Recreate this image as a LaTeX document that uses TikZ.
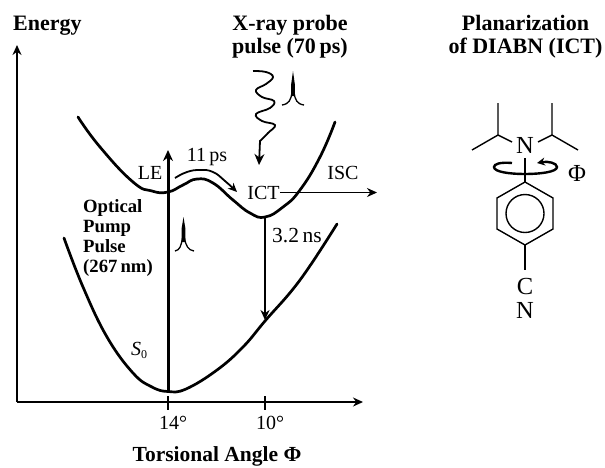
\documentclass[tikz,border=0pt]{standalone}
\usepackage{fontspec}
\setmainfont{Liberation Serif}
\usetikzlibrary{arrows.meta,calc}
\tikzset{
  lab/.style={inner sep=0pt,font=\fontsize{20}{22}\selectfont},
  chem/.style={inner sep=0pt,font=\fontsize{24.5}{26}\selectfont},
  blab/.style={inner sep=0pt,align=center,font=\fontsize{22}{23}\selectfont\bfseries},
  oplab/.style={inner sep=0pt,align=left,font=\fontsize{18.7}{19.7}\selectfont\bfseries},
  curve/.style={line width=2.7pt,line cap=round},
  thin arrow/.style={line width=1.5pt,-{Stealth[length=10pt,width=9pt]}},
  pump arrow/.style={line width=3pt,-{Stealth[length=11pt,width=10pt]}},
  pulsestem/.style={fill=black,draw=none},
  pulseleg/.style={line width=1.3pt},
  bond/.style={line width=1.4pt}
}
\begin{document}
\begin{tikzpicture}[x=1pt,y=-1pt]
\useasboundingbox (0,0) rectangle (605,467);
% labels
\node[blab,anchor=west] (energy) at (13,26) {Energy};
\node[blab] (xray) at (290,37) {X-ray probe\\pulse (70\,ps)};
\node[blab] (plan) at (525.5,37) {Planarization\\of DIABN (ICT)};
\node[blab,font=\fontsize{21.5}{23}\selectfont\bfseries] (torsion) at (217,456.5) {Torsional Angle Φ};
\node[lab] (le) at (150,173) {LE};
\node[lab] (ps) at (207,157) {11\,ps};
\node[lab] (ict) at (263.5,192.5) {ICT};
\node[lab] (isc) at (343,173) {ISC};
\node[lab,font=\fontsize{21.5}{22}\selectfont] (ns) at (297,236) {3.2\,ns};
\node[lab] (s0) at (139,350) {\textit{S}\raisebox{-3pt}{\fontsize{12}{12}\selectfont 0}};
\node[lab] (a14) at (173,423) {14°};
\node[lab] (a10) at (270,423) {10°};
\node[oplab,anchor=west] (opt) at (83,238) {Optical\\Pump\\Pulse\\(267\,nm)};
% axes
\coordinate (o) at (17,402);
\coordinate (ytop) at (17,45);
\coordinate (xend) at (363,402);
\draw[thin arrow] (o) -- (ytop);
\draw[thin arrow] (o) -- (xend);
\draw[line width=1.2pt] (168,396) -- (168,410);
\draw[line width=1.2pt] (265,396) -- (265,410);
% potential curves
\draw[curve] plot[smooth,tension=0.8] coordinates {(78,117) (100,147) (133,182) (152,191) (168,192) (183,185) (197,179) (213,183) (233,200) (250,213) (265,217) (283,207) (300,190) (320,157) (335,122)};
\draw[curve] plot[smooth,tension=0.7] coordinates {(64,238) (83,287) (107,337) (133,373) (152,387) (168,391.5) (186,389) (217,370) (243,347) (265,321) (300,280) (337,224)};
% transitions
\coordinate (s0min) at (168,391);
\coordinate (letop) at (168,150);
\draw[pump arrow] (s0min) -- (letop);
\coordinate (ictmin) at (265,217);
\coordinate (s0ict) at (265,320);
\draw[thin arrow] (ictmin) -- (s0ict);
\coordinate (iscend) at (377,192.5);
\draw[thin arrow] (ict.east) -- (iscend);
\coordinate (r1) at (175,178);
\coordinate (r2) at (237,192);
\draw[line width=1.8pt,-{Stealth[length=9pt,width=8pt]}] plot[smooth,tension=0.8] coordinates {(r1) (187,172) (200,170) (213,172) (225,181) (r2)};
% x-ray wave
\coordinate (w0) at (253,71);
\coordinate (w1) at (259,165);
\draw[line width=1.8pt,-{Stealth[length=11pt,width=10pt]}] plot[smooth,tension=0.7] coordinates {(w0) (266,72) (273,77) (266,84) (256,90) (262,97) (274,101) (270,108) (256,114) (262,121) (275,125) (268,133) (260,141)} -- (w1);
% pulses
\fill[pulsestem] (293,71) -- (294.8,84) -- (294.8,96) -- (291.2,96) -- (291.2,84) -- cycle;
\draw[pulseleg] (282,105) .. controls (289,104) and (291,100) .. (292,92);
\draw[pulseleg] (304,105) .. controls (297,104) and (295,100) .. (294,92);
\fill[pulsestem] (183.5,217) -- (185.3,228) -- (185.3,242) -- (181.7,242) -- (181.7,228) -- cycle;
\draw[pulseleg] (175,251) .. controls (180,250) and (181,246) .. (182.5,238);
\draw[pulseleg] (194,251) .. controls (188,250) and (186,246) .. (184.5,238);
% molecule
\node[chem] (n1) at (525,145) {N};
\node[chem] (phi) at (577,173) {Φ};
\node[chem] (c) at (525,286) {C};
\node[chem] (n2) at (525,310) {N};
\coordinate (lb) at (498,135);
\coordinate (rb) at (552,135);
\draw[bond] (498,103) -- (lb) -- (472,150);
\draw[bond] (lb) -- (512,142);
\draw[bond] (552,103) -- (rb) -- (578,150);
\draw[bond] (rb) -- (538,142);
\coordinate (rtop) at (525,182);
\coordinate (rbot) at (525,245);
\draw[bond] (525,158) -- (rtop);
\draw[bond] (rtop) -- (553,198) -- (553,229) -- (rbot) -- (497,229) -- (497,198) -- cycle;
\draw[bond] (525,213.5) circle (19);
\draw[bond] (rbot) -- (525,270);
% rotation arrow
\draw[line width=2.4pt,-{Stealth[length=8pt,width=8pt]}] (512,163) .. controls (500,162) and (494,164) .. (494,167) .. controls (494,172) and (510,174) .. (525,174) .. controls (540,174) and (557,172) .. (557,167) .. controls (557,163) and (548,161) .. (537,163);
\end{tikzpicture}
\end{document}
